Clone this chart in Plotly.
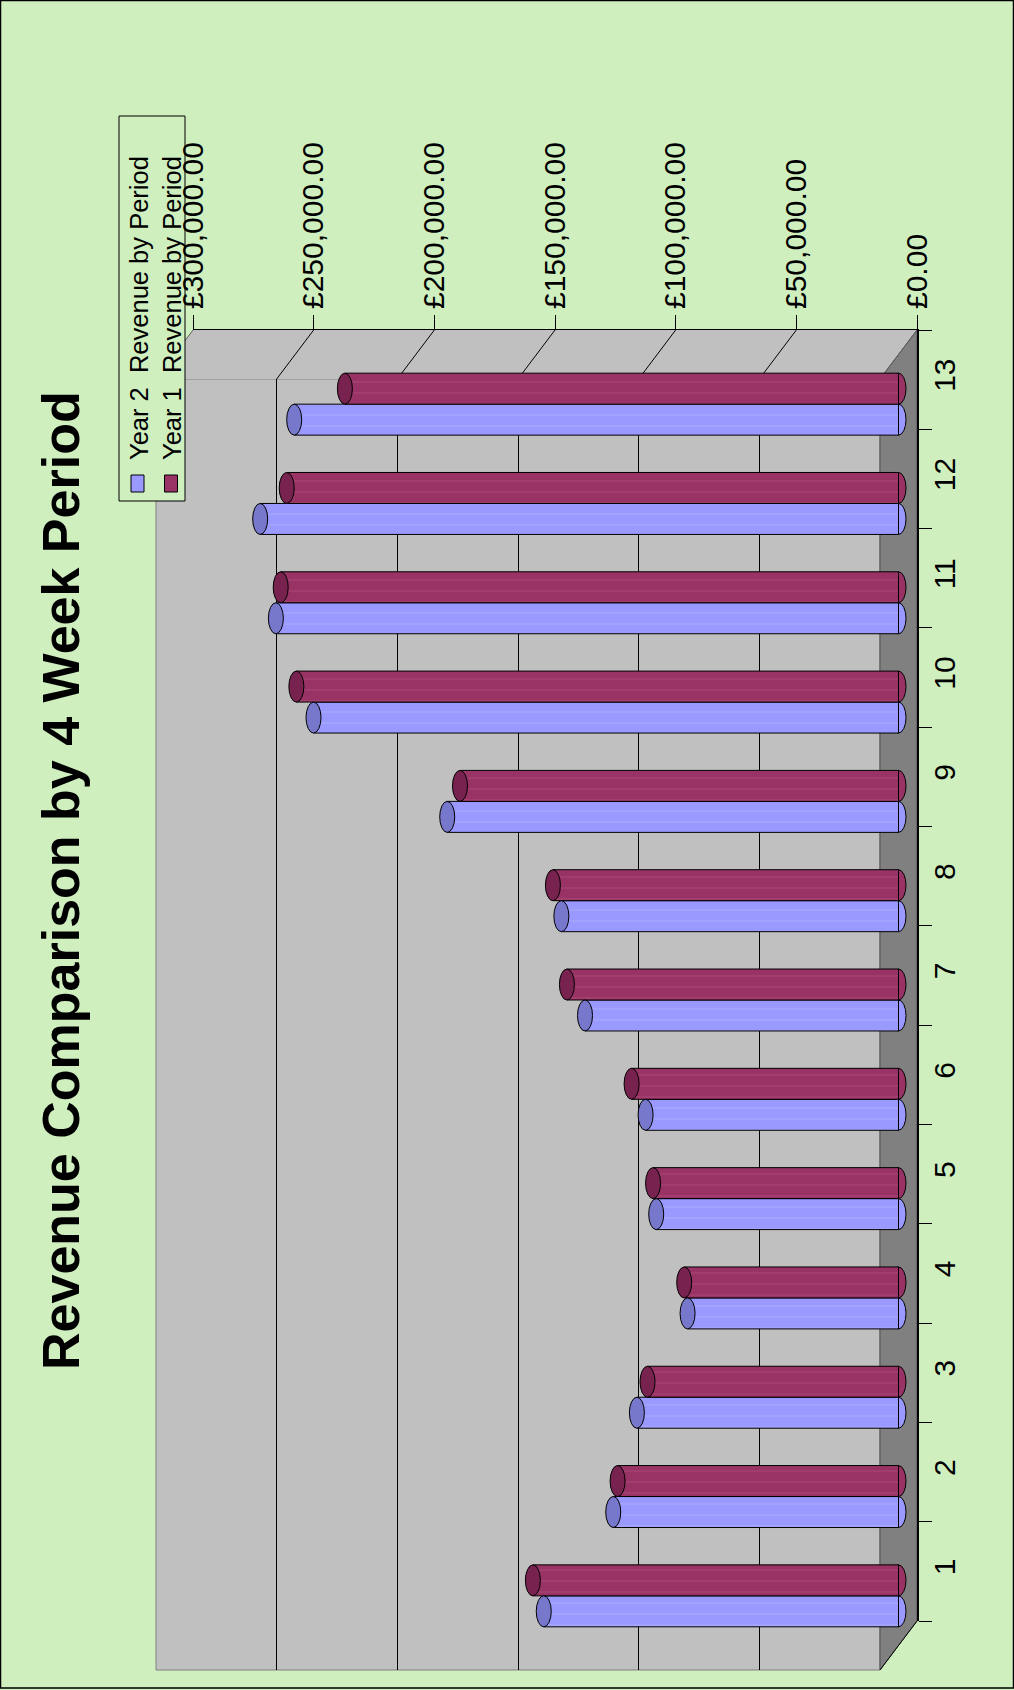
import plotly.graph_objects as go

# ---------------- data ----------------
periods = ['1', '2', '3', '4', '5', '6', '7', '8', '9', '10', '11', '12', '13']
year1_revenue = [151500, 116400, 104000, 88800, 101700, 110600, 137400,
                 143200, 181700, 249500, 256000, 253500, 229400]
year2_revenue = [147000, 118200, 108400, 87400, 100400, 104800, 129900,
                 139700, 187000, 242400, 258000, 264500, 250400]
value_ticks = [0, 50000, 100000, 150000, 200000, 250000, 300000]
value_tick_labels = ['£0.00', '£50,000.00', '£100,000.00', '£150,000.00',
                     '£200,000.00', '£250,000.00', '£300,000.00']
series_names = ['Year 2  Revenue by Period', 'Year 1  Revenue by Period']
title_text = 'Revenue Comparison by 4 Week Period'

# ---------------- styling / geometry ----------------
W, H = 1014, 1690
BG = '#CFEFBF'
WALL = '#C0C0C0'
FLOOR = '#808080'
BLUE, BLUE_CAP = '#9999FF', '#7777CC'
MAROON, MAROON_CAP = '#993366', '#77224F'
FONT = 'Liberation Sans, Arial, sans-serif'

FX0, FX1 = 193, 917      # front value axis: max value at left, zero at right (px)
FY0, FY1 = 330, 1621     # front top / bottom (px)
DX, DY = -37, 49         # 3D depth offset (px)
VMAX = max(value_ticks)
EXT = 5000               # room right of zero for the rounded bar ends
SCALE = (FX1 - FX0) / VMAX
BARGAP = 0.376
BAR_W = (1 - BARGAP) / 2
CAP_HALF = 7.5 / SCALE   # half width of the cylinder cap, in value units


def px(x):
    return x / W


def py(y):
    return (H - y) / H


def xfront(v):
    return FX1 - v * SCALE


def poly(points):
    return 'M ' + ' L '.join(f'{px(x):.6f},{py(y):.6f}' for x, y in points) + ' Z'


fig = go.Figure()

# back wall gridlines subplot (xy) - drawn first
fig.add_trace(go.Scatter(x=[None], y=[None], xaxis='x', yaxis='y', mode='markers',
                         showlegend=False, hoverinfo='skip'))
# front axes subplot (x2y2)
fig.add_trace(go.Scatter(x=[None] * len(periods), y=periods, xaxis='x2', yaxis='y2',
                         mode='markers', marker=dict(opacity=0), showlegend=False,
                         hoverinfo='skip'))
# bars (x3y3) - mid depth
series = [(series_names[0], year2_revenue, BLUE, BLUE_CAP, '#B4B4FF'),
          (series_names[1], year1_revenue, MAROON, MAROON_CAP, '#B5557F')]
for name, vals, col, capcol, stripe in series:
    fig.add_trace(go.Bar(
        x=vals, y=periods, orientation='h', xaxis='x3', yaxis='y3', name=name,
        marker=dict(color=col, line=dict(color='black', width=1),
                    pattern=dict(shape='-', fillmode='overlay', fgcolor=stripe,
                                 fgopacity=0.7, size=11, solidity=0.08)),
        showlegend=False, hoverinfo='skip'))

shapes = []
# walls (paper coords)
shapes.append(dict(type='rect', xref='paper', yref='paper', layer='below',
                   x0=px(FX0 + DX), x1=px(FX1 + DX), y0=py(FY1 + DY), y1=py(FY0 + DY),
                   fillcolor=WALL, line=dict(color='#808080', width=1)))
shapes.append(dict(type='path', xref='paper', yref='paper', layer='below',
                   path=poly([(FX0, FY0), (FX1, FY0), (FX1 + DX, FY0 + DY), (FX0 + DX, FY0 + DY)]),
                   fillcolor=WALL, line=dict(width=0)))
shapes.append(dict(type='path', xref='paper', yref='paper', layer='below',
                   path=poly([(FX1, FY0), (FX1, FY1), (FX1 + DX, FY1 + DY), (FX1 + DX, FY0 + DY)]),
                   fillcolor=FLOOR, line=dict(color='#505050', width=1)))
for v in value_ticks:
    x = xfront(v)
    c = 'black' if 0 < v < VMAX else '#606060'
    shapes.append(dict(type='line', xref='paper', yref='paper', layer='below',
                       x0=px(x), y0=py(FY0), x1=px(x + DX), y1=py(FY0 + DY),
                       line=dict(color=c, width=1)))
shapes.append(dict(type='line', xref='paper', yref='paper', layer='below',
                   x0=px(FX1), y0=py(FY1), x1=px(FX1 + DX), y1=py(FY1 + DY),
                   line=dict(color='black', width=1)))

# legend box
LX0, LX1, LY0, LY1 = 119, 185, 116, 501
shapes.append(dict(type='rect', xref='paper', yref='paper', layer='below',
                   x0=px(LX0), x1=px(LX1), y0=py(LY1), y1=py(LY0),
                   fillcolor=BG, line=dict(color='black', width=1)))
for (cx, col) in [(137.5, BLUE), (171, MAROON)]:
    shapes.append(dict(type='rect', xref='paper', yref='paper', layer='below',
                       x0=px(cx - 6.5), x1=px(cx + 6.5), y0=py(492), y1=py(475),
                       fillcolor=col, line=dict(color='black', width=1)))

# cylinder ends, positioned from the data
for k, (name, vals, col, capcol, stripe) in enumerate(series):
    off = -BAR_W / 2 if k == 0 else BAR_W / 2
    for i, v in enumerate(vals):
        y0, y1 = i + off - BAR_W / 2, i + off + BAR_W / 2
        shapes.append(dict(type='circle', xref='x3', yref='y3', layer='below',
                           x0=-CAP_HALF, x1=CAP_HALF, y0=y0, y1=y1,
                           fillcolor=col, line=dict(color='black', width=1)))
        shapes.append(dict(type='circle', xref='x3', yref='y3', layer='above',
                           x0=v - CAP_HALF, x1=v + CAP_HALF, y0=y0, y1=y1,
                           fillcolor=capcol, line=dict(color='black', width=1)))

# outer border
shapes.append(dict(type='rect', xref='paper', yref='paper', layer='above',
                   x0=px(0.5), x1=px(1013.5), y0=py(1688), y1=py(0.5),
                   fillcolor='rgba(0,0,0,0)', line=dict(color='black', width=1.5)))

annotations = [
    dict(text='<b>' + title_text + '</b>', xref='paper', yref='paper',
         x=px(61), y=py(881), textangle=-90, showarrow=False,
         xanchor='center', yanchor='middle',
         font=dict(family=FONT, size=52, color='black')),
    dict(text=series_names[0], xref='paper', yref='paper', x=px(139), y=py(308),
         textangle=-90, showarrow=False, xanchor='center', yanchor='middle',
         font=dict(family=FONT, size=25.5, color='black')),
    dict(text=series_names[1], xref='paper', yref='paper', x=px(172), y=py(308),
         textangle=-90, showarrow=False, xanchor='center', yanchor='middle',
         font=dict(family=FONT, size=25.5, color='black')),
]

tickfont = dict(family=FONT, size=30, color='black')
fig.update_layout(
    template='none', width=W, height=H, margin=dict(l=0, r=0, t=0, b=0, pad=0),
    paper_bgcolor=BG, plot_bgcolor='rgba(0,0,0,0)', showlegend=False,
    barmode='group', bargap=BARGAP, bargroupgap=0,
    font=dict(family=FONT, color='black'),
    xaxis=dict(domain=[px(FX0 + DX), px(FX1 + DX)], range=[VMAX, 0], anchor='y',
               tickvals=value_ticks[1:-1], showgrid=True, gridcolor='black', gridwidth=1,
               showticklabels=False, ticks='', showline=False, zeroline=False,
               automargin=False, fixedrange=True),
    yaxis=dict(domain=[py(FY1 + DY), py(FY0 + DY)], range=[0, 1], anchor='x',
               showgrid=False, showticklabels=False, ticks='', showline=False,
               zeroline=False, automargin=False, fixedrange=True),
    xaxis2=dict(domain=[px(FX0), px(FX1)], range=[VMAX, 0], anchor='y2', side='top',
                showline=True, linecolor='black', linewidth=1, ticks='outside',
                ticklen=14, tickwidth=1, tickcolor='black', tickmode='array',
                tickvals=value_ticks, ticktext=value_tick_labels, tickangle=-90,
                tickfont=tickfont, showgrid=False, zeroline=False, automargin=False,
                fixedrange=True),
    yaxis2=dict(domain=[py(FY1), py(FY0)], anchor='x2', side='right', type='category',
                categoryorder='array', categoryarray=periods,
                range=[-0.5, len(periods) - 0.5], showline=True, linecolor='black',
                linewidth=2, ticks='outside', tickson='boundaries', ticklen=13,
                tickwidth=1, tickcolor='black', tickangle=-90, tickfont=tickfont,
                showgrid=False, zeroline=False, automargin=False, fixedrange=True),
    xaxis3=dict(domain=[px(FX0 + DX / 2), px(FX1 + DX / 2 + EXT * SCALE)],
                range=[VMAX, -EXT], anchor='y3', visible=False, fixedrange=True),
    yaxis3=dict(domain=[py(FY1 + DY / 2), py(FY0 + DY / 2)], anchor='x3',
                type='category', categoryorder='array', categoryarray=periods,
                range=[-0.5, len(periods) - 0.5], visible=False, fixedrange=True),
    shapes=shapes, annotations=annotations,
)

fig.write_html('out.html', include_plotlyjs=True, config={'displayModeBar': False})
